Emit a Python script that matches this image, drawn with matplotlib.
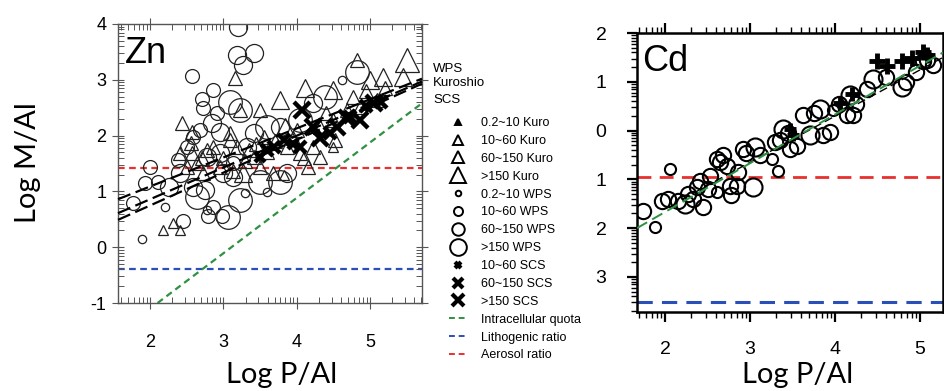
import numpy as np
import matplotlib
matplotlib.use("Agg")
import matplotlib.pyplot as plt
from matplotlib.lines import Line2D
from matplotlib.ticker import FixedLocator

plt.rcParams['font.family'] = ['Liberation Sans', 'DejaVu Sans']

# ---- Zn panel data (Log P/Al, Log M/Al, size class) ----
wps_x = [3.20, 3.19, 3.41, 3.27, 2.57, 2.86, 2.71, 3.09, 2.72, 2.91, 3.23, 2.95, 2.68, 2.85,
         2.38, 2.00, 2.10, 1.93, 2.25, 1.77, 1.89, 2.20, 2.45, 2.41, 2.64, 2.75, 2.78, 2.86,
         2.79, 3.06, 2.98, 3.23, 3.30, 3.60, 3.50, 3.77, 3.87, 3.13, 3.00, 3.13, 4.39, 4.82,
         4.62, 4.22, 4.05, 3.77, 3.60, 3.41, 3.32, 2.59, 2.50, 2.78, 2.95, 2.59]
wps_y = [3.95, 3.44, 3.48, 3.27, 3.07, 2.82, 2.66, 2.60, 2.49, 2.40, 2.46, 2.06, 2.10, 2.23,
         1.56, 1.44, 1.17, 1.15, 1.08, 0.79, 0.15, 0.72, 0.47, 1.33, 0.90, 1.02, 0.67, 0.72,
         0.56, 0.54, 0.56, 0.85, 0.97, 0.99, 1.17, 1.17, 1.33, 1.26, 1.33, 1.51, 2.69, 3.14,
         3.00, 2.58, 2.28, 2.15, 2.15, 2.05, 1.80, 1.97, 1.80, 1.62, 1.69, 1.08]
wps_cls = ['60~150', '60~150', '60~150', '60~150', '10~60', '10~60', '10~60', '>150', '10~60',
           '10~60', '>150', '60~150', '10~60', '60~150', '10~60', '10~60', '10~60', '10~60',
           '60~150', '10~60', '0.2~10', '0.2~10', '10~60', '60~150', '>150', '60~150', '0.2~10',
           '10~60', '10~60', '>150', '10~60', '>150', '0.2~10', '0.2~10', '>150', '>150',
           '60~150', '60~150', '60~150', '10~60', '>150', '>150', '0.2~10', '60~150', '>150',
           '60~150', '>150', '60~150', '60~150', '10~60', '10~60', '60~150', '60~150', '60~150']

kuro_x = [5.50, 4.82, 3.16, 2.43, 2.57, 2.55, 2.41, 2.57, 2.18, 2.31, 2.41, 3.50, 3.77, 4.11,
          4.50, 5.00, 5.18, 5.45, 5.10, 4.77, 3.84, 3.23, 3.09, 2.78, 2.95, 3.27, 3.13, 3.50,
          3.68, 3.82, 3.55, 3.87, 4.05, 4.22, 4.32, 4.50, 4.52, 4.16, 3.41, 2.64, 2.72, 2.50,
          4.32, 4.50, 4.68, 4.86, 2.86, 3.18, 3.09, 3.35, 3.60, 3.70, 3.95, 4.00, 3.45, 3.30,
          4.40, 4.95, 5.20, 3.00, 2.70, 4.10]
kuro_y = [3.35, 3.35, 3.03, 2.23, 2.06, 1.87, 1.69, 1.69, 0.31, 0.43, 0.31, 2.46, 2.64, 2.85,
          2.82, 3.00, 3.05, 3.05, 2.64, 2.69, 2.15, 2.46, 1.92, 1.74, 1.44, 1.33, 1.36, 1.44,
          1.33, 1.29, 1.97, 1.80, 1.69, 1.80, 1.62, 1.80, 1.92, 1.44, 1.62, 1.51, 1.33, 1.44,
          2.15, 2.28, 2.46, 2.51, 1.80, 1.80, 2.05, 1.75, 1.70, 1.90, 1.95, 2.10, 1.85, 1.55,
          2.40, 2.80, 2.85, 1.60, 1.60, 1.60]
kuro_cls = ['>150', '10~60', '10~60', '10~60', '10~60', '10~60', '10~60', '10~60', '0.2~10',
            '0.2~10', '0.2~10', '10~60', '60~150', '60~150', '60~150', '60~150', '60~150',
            '60~150', '10~60', '10~60', '60~150', '10~60', '10~60', '10~60', '10~60', '60~150',
            '10~60', '10~60', '10~60', '0.2~10', '10~60', '10~60', '10~60', '10~60', '10~60',
            '0.2~10', '10~60', '10~60', '10~60', '10~60', '10~60', '10~60', '10~60', '10~60',
            '10~60', '10~60', '10~60', '10~60', '10~60', '10~60', '10~60', '10~60', '10~60',
            '10~60', '10~60', '10~60', '10~60', '10~60', '10~60', '10~60', '10~60', '10~60']

scs_x = [4.07, 4.22, 4.05, 4.32, 4.55, 4.68, 4.86, 5.05, 4.95, 4.73, 3.82, 3.59, 3.50, 3.69,
         4.45, 3.95, 5.15]
scs_y = [2.46, 2.15, 1.80, 1.95, 2.15, 2.31, 2.28, 2.58, 2.53, 2.33, 1.92, 1.74, 1.62, 1.80,
         2.05, 1.85, 2.60]
scs_cls = ['>150', '>150', '60~150', '>150', '>150', '>150', '>150', '>150', '60~150', '60~150',
           '60~150', '60~150', '10~60', '60~150', '60~150', '10~60', '60~150']

# regression lines (WPS, Kuroshio, SCS) end points
reg_x = [1.56, 5.71]
reg_wps = [0.86, 3.02]
reg_kuro = [0.61, 2.97]
reg_scs = [0.49, 2.93]

zn_aerosol = 1.42
zn_litho = -0.39
zn_quota_x = [2.10, 5.71]
zn_quota_y = [-1.00, 2.58]

# ---- Cd panel data ----
cd_x = [1.74, 1.88, 2.06, 1.96, 2.04, 2.24, 2.27, 2.38, 2.33, 2.45, 2.41, 2.53, 2.61, 2.61,
        2.68, 2.73, 2.76, 2.78, 2.85, 2.86, 2.92, 3.04, 3.06, 3.12, 3.26, 3.29, 3.33, 3.39,
        3.35, 3.47, 3.55, 3.62, 3.71, 3.82, 3.86, 3.94, 3.98, 4.18, 4.14, 4.21, 4.38, 4.45,
        4.79, 4.84, 5.04, 5.08, 2.15, 2.50, 2.65, 2.95, 3.45, 3.75, 4.05, 4.25, 4.60, 4.95, 5.15]
cd_y = [-1.65, -1.98, -0.78, -1.44, -1.40, -1.50, -1.30, -1.15, -1.40, -1.57, -1.03, -0.93,
        -1.26, -0.58, -0.51, -0.72, -1.13, -1.33, -1.13, -0.85, -0.37, -1.15, -0.33, -0.51,
        -0.58, -0.23, -0.82, 0.04, -0.20, -0.37, -0.31, 0.31, -0.10, 0.45, -0.10, -0.02, 0.43,
        0.72, 0.31, 0.31, 0.86, 1.06, 0.90, 0.99, 1.42, 1.45, -1.45, -1.20, -0.65, -0.45,
        -0.05, 0.35, 0.55, 0.55, 1.10, 1.20, 1.35]
cd_cls = ['10~60', '0.2~10', '0.2~10', '10~60', '10~60', '60~150', '10~60', '10~60', '10~60',
          '10~60', '10~60', '10~60', '0.2~10', '10~60', '10~60', '10~60', '10~60', '10~60',
          '10~60', '10~60', '10~60', '60~150', '60~150', '10~60', '0.2~10', '10~60', '0.2~10',
          '60~150', '10~60', '10~60', '10~60', '10~60', '60~150', '60~150', '10~60', '10~60',
          '0.2~10', '60~150', '10~60', '10~60', '10~60', '60~150', '60~150', '10~60', '10~60',
          '10~60', '10~60', '10~60', '10~60', '10~60', '10~60', '10~60', '10~60', '10~60',
          '10~60', '10~60', '10~60']
cd_scs_x = [4.49, 4.61, 4.79, 4.90, 5.08, 5.04, 3.47, 4.06, 3.50, 4.20]
cd_scs_y = [1.42, 1.32, 1.42, 1.49, 1.55, 1.62, 0.04, 0.56, -0.10, 0.75]
cd_scs_cls = ['>150', '>150', '>150', '>150', '>150', '>150', '10~60', '60~150', '10~60', '60~150']

cd_aerosol = -0.95
cd_litho = -3.52
cd_quota_x = [1.67, 5.27]
cd_quota_y = [-2.00, 1.60]
cd_reg_x = [2.2, 5.27]
cd_reg_y = [-1.41, 1.50]

GREEN = '#2f9142'
BLUE = '#2b4fb8'
RED = '#e8302e'

tri_ms = {'0.2~10': 7, '10~60': 10, '60~150': 12.5, '>150': 17}
circ_ms = {'0.2~10': 6, '10~60': 10, '60~150': 13, '>150': 17}
x_ms = {'10~60': 7, '60~150': 9, '>150': 11}
cd_ms = {'0.2~10': 8, '10~60': 11, '60~150': 13}
plus_ms = {'10~60': 8, '60~150': 10, '>150': 12}


def minor_log(lo, hi):
    out = []
    for n in range(int(np.floor(lo)) - 1, int(np.ceil(hi)) + 1):
        for k in range(2, 10):
            v = n + np.log10(k)
            if lo <= v <= hi:
                out.append(v)
    return out


fig = plt.figure(figsize=(9.45, 3.91), dpi=100)

# ================= Zn =================
ax = fig.add_axes([118 / 945, 1 - 303 / 391, 304 / 945, 279 / 391])
ax.set_xlim(1.56, 5.71)
ax.set_ylim(-1, 4)

ax.axhline(zn_aerosol, color=RED, ls=(0, (3, 2)), lw=1.6, zorder=1)
ax.axhline(zn_litho, color=BLUE, ls=(0, (3, 2)), lw=1.6, zorder=1)
ax.plot(zn_quota_x, zn_quota_y, color=GREEN, ls=(0, (3, 2)), lw=1.6, zorder=1)

for x, y, c in zip(wps_x, wps_y, wps_cls):
    ax.plot(x, y, 'o', ms=circ_ms[c], mfc='none', mec='#222222', mew=0.9, zorder=2)
for x, y, c in zip(kuro_x, kuro_y, kuro_cls):
    ax.plot(x, y, '^', ms=tri_ms[c], mfc='none', mec='#222222', mew=0.9, zorder=2)
for x, y, c in zip(scs_x, scs_y, scs_cls):
    ax.plot(x, y, 'x', ms=x_ms[c], mec='black', mew=3.2, zorder=3)

for ys in (reg_wps, reg_kuro, reg_scs):
    ax.plot(reg_x, ys, color='black', ls=(0, (6, 2.5)), lw=1.6, zorder=4, clip_on=False)

ax.text(5.86, 3.19, 'WPS', fontsize=9.5, va='center', ha='left')
ax.text(5.86, 2.94, 'Kuroshio', fontsize=9.5, va='center', ha='left')
ax.text(5.86, 2.64, 'SCS', fontsize=9.5, va='center', ha='left')

ax.text(1.66, 3.48, 'Zn', fontsize=26, va='center', ha='left')

ax.set_xticks([2, 3, 4, 5])
ax.set_yticks([-1, 0, 1, 2, 3, 4])
ax.set_yticklabels(['-1', '0', '1', '2', '3', '4'])
ax.xaxis.set_minor_locator(FixedLocator(minor_log(1.56, 5.71)))
ax.yaxis.set_minor_locator(FixedLocator(minor_log(-1, 4)))
ax.tick_params(which='major', direction='inout', length=9, width=0.8, color='#555555',
               labelsize=13, top=True, right=True, pad=4)
ax.tick_params(axis='x', which='major', pad=18)
ax.tick_params(which='minor', direction='in', length=4, width=0.7, color='#555555',
               top=True, right=True)
for s in ax.spines.values():
    s.set_color('#555555')
    s.set_linewidth(1.0)

fig.text(28 / 945, 1 - 163 / 391, 'Log M/Al', rotation=90, fontsize=21, family='Lato',
         ha='center', va='center')
fig.text(282 / 945, 1 - 383 / 391, 'Log P/Al', fontsize=21, family='Lato',
         ha='center', va='baseline')

# legend
handles = []
labels = []
leg_tri = {'0.2~10': 4.5, '10~60': 6.5, '60~150': 8.5, '>150': 11}
leg_circ = {'0.2~10': 4, '10~60': 6.5, '60~150': 9, '>150': 12}
leg_x = {'10~60': 5, '60~150': 6.5, '>150': 8.5}
for c in ['0.2~10', '10~60', '60~150', '>150']:
    handles.append(Line2D([], [], ls='none', marker='^', ms=leg_tri[c], mfc='none' if c != '0.2~10' else 'black',
                          mec='black', mew=1.4))
    labels.append(c + ' Kuro')
for c in ['0.2~10', '10~60', '60~150', '>150']:
    handles.append(Line2D([], [], ls='none', marker='o', ms=leg_circ[c], mfc='none', mec='black', mew=1.4))
    labels.append(c + ' WPS')
for c in ['10~60', '60~150', '>150']:
    handles.append(Line2D([], [], ls='none', marker='x', ms=leg_x[c], mec='black', mew=3))
    labels.append(c + ' SCS')
for col, lab in [(GREEN, 'Intracellular quota'), (BLUE, 'Lithogenic ratio'), (RED, 'Aerosol ratio')]:
    handles.append(Line2D([], [], color=col, ls=(0, (3, 2)), lw=1.4))
    labels.append(lab)
fig.legend(handles, labels, loc='upper left', bbox_to_anchor=(449 / 945, 1 - 117 / 391),
           frameon=False, fontsize=9, borderpad=0, borderaxespad=0, handlelength=1.45,
           handletextpad=1.1, labelspacing=0.47)

# ================= Cd =================
bx = fig.add_axes([637 / 945, 1 - 312 / 391, 306 / 945, 279 / 391])
bx.set_xlim(1.67, 5.27)
bx.set_ylim(-3.72, 2)

bx.axhline(cd_aerosol, color=RED, ls=(0, (5, 3)), lw=2.0, zorder=1)
bx.axhline(cd_litho, color=BLUE, ls=(0, (5, 3)), lw=2.2, zorder=1)
bx.plot(cd_reg_x, cd_reg_y, color='black', ls=(0, (6, 3)), lw=1.0, zorder=1)

for x, y, c in zip(cd_x, cd_y, cd_cls):
    bx.plot(x, y, 'o', ms=cd_ms[c], mfc='none', mec='black', mew=1.5, zorder=2)
for x, y, c in zip(cd_scs_x, cd_scs_y, cd_scs_cls):
    bx.plot(x, y, '+', ms=plus_ms[c], mec='black', mew=3.5, zorder=3)

bx.plot(cd_quota_x, cd_quota_y, color=GREEN, ls=(0, (6, 3)), lw=1.4, zorder=4)

bx.text(1.73, 1.42, 'Cd', fontsize=26, va='center', ha='left')

bx.set_xticks([2, 3, 4, 5])
bx.set_yticks([2, 1, 0, -1, -2, -3])
bx.set_yticklabels(['2', '1', '0', '1', '2', '3'])
bx.xaxis.set_minor_locator(FixedLocator(minor_log(1.67, 5.27)))
bx.yaxis.set_minor_locator(FixedLocator(minor_log(-3.72, 2)))
bx.tick_params(which='major', direction='out', length=7, width=1.6, labelsize=14,
               top=True, right=False, pad=3)
bx.tick_params(axis='y', which='major', pad=15)
bx.tick_params(axis='x', which='major', pad=14)
bx.tick_params(which='minor', direction='out', length=4, width=1.0, top=True, right=False)
for s in bx.spines.values():
    s.set_color('black')
    s.set_linewidth(1.8)

fig.text(798 / 945, 1 - 383 / 391, 'Log P/Al', fontsize=21, family='Lato',
         ha='center', va='baseline')

fig.savefig('out.png', dpi=100)
